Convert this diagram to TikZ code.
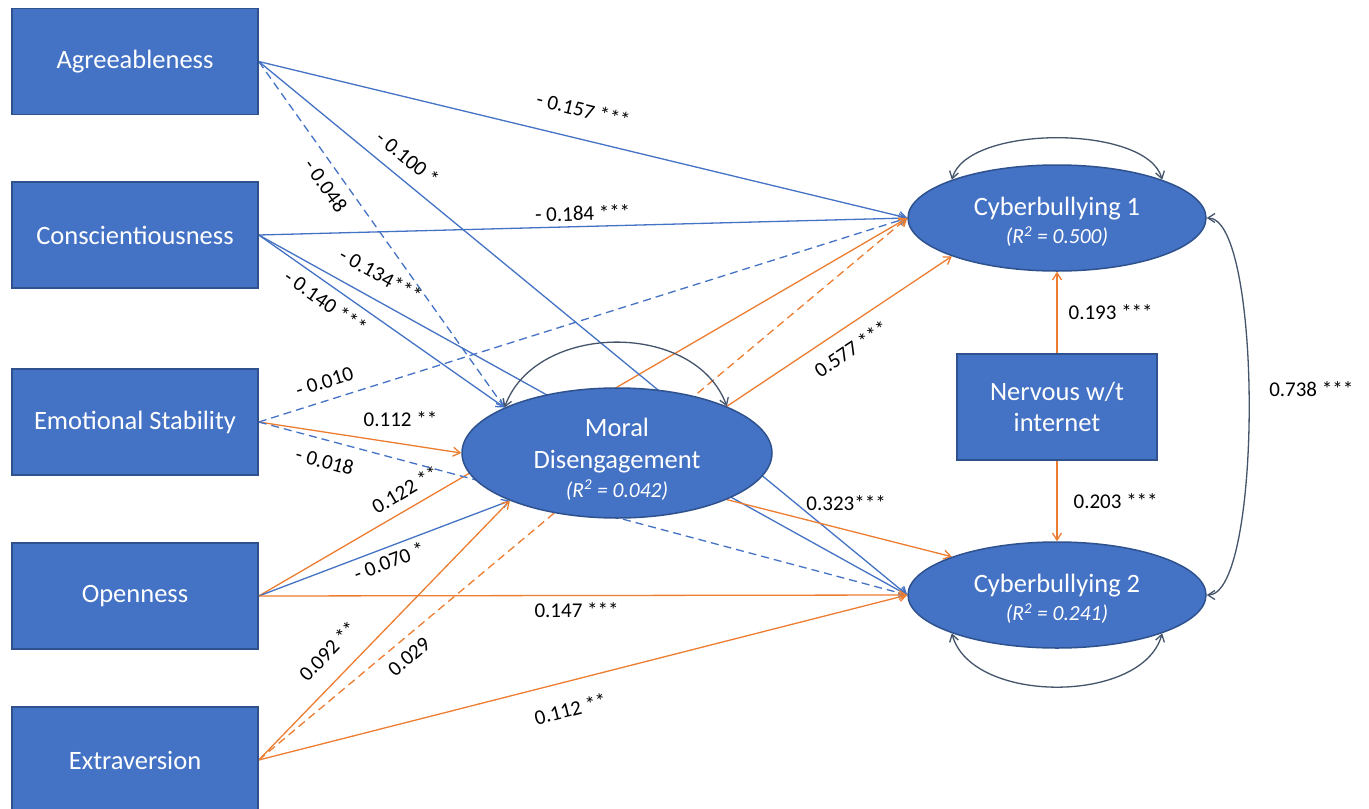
\documentclass[tikz,border=0pt]{standalone}
\usepackage{fontspec}
\setmainfont{Carlito}
\usetikzlibrary{arrows.meta, shapes.geometric, backgrounds}
\definecolor{boxblue}{RGB}{68, 114, 196}
\definecolor{boxedge}{RGB}{47, 82, 143}
\definecolor{posorange}{RGB}{237, 125, 49}
\definecolor{arcgrey}{RGB}{68, 84, 106}

\begin{document}
\begin{tikzpicture}[x=1pt, y=-1pt,
    trait/.style={rectangle, draw=boxedge, line width=1.5pt, fill=boxblue, text=white, minimum width=246pt, minimum height=106pt, inner sep=0pt, align=center, font=\fontsize{26.5}{31}\selectfont},
    latent/.style={ellipse, draw=boxedge, line width=1.5pt, fill=boxblue, inner sep=0pt},
    inlatent/.style={text=white, align=center, font=\fontsize{26.5}{32}\selectfont},
    negline/.style={draw=boxblue, line width=1.3pt, -{Straight Barb[length=7pt, width=9pt]}},
    posline/.style={draw=posorange, line width=1.3pt, -{Straight Barb[length=7pt, width=9pt]}},
    ns/.style={dash pattern=on 8pt off 5pt},
    resid/.style={draw=arcgrey, line width=1.3pt, {Straight Barb[length=7pt, width=9pt]}-{Straight Barb[length=7pt, width=9pt]}},
    coef/.style={font=\fontsize{21}{25}\selectfont, inner sep=2pt, text=black}]

    \useasboundingbox (0,0) rectangle (1369,809);

    \node[trait] (agree) at (135,61.5) {Agreeableness};
    \node[trait] (consc) at (135,235) {Conscientiousness};
    \node[trait] (es) at (135,422) {Emotional Stability};
    \node[trait] (open) at (135,596) {Openness};
    \node[trait] (extra) at (135,760) {Extraversion};
    \node[trait, minimum width=200pt] (nerv) at (1057,407) {Nervous w/t\\internet};

    \node[latent, minimum width=310pt, minimum height=130pt,
        label={[inlatent, yshift=-6pt]center:{Moral\\Disengagement\\[-3pt]{\fontsize{21.5}{26}\selectfont\itshape (R\textsuperscript{2} = 0.042)}}}] (moral) at (617,453) {};
    \node[latent, minimum width=298pt, minimum height=106pt,
        label={[inlatent, yshift=-4pt]center:{Cyberbullying 1\\[-4pt]{\fontsize{21.5}{26}\selectfont\itshape (R\textsuperscript{2} = 0.500)}}}] (cb1) at (1057,218) {};
    \node[latent, minimum width=298pt, minimum height=106pt,
        label={[inlatent, yshift=-4pt]center:{Cyberbullying 2\\[-4pt]{\fontsize{21.5}{26}\selectfont\itshape (R\textsuperscript{2} = 0.241)}}}] (cb2) at (1057,595) {};

    \begin{scope}[on background layer]
        \fill[white] (0,0) rectangle (1369,809);

        \draw[negline] (agree.east) -- (cb1.west) node[coef, pos=0.49, sloped, above=19pt] {- 0.157 ***};
        \draw[negline] (consc.east) -- (cb1.west) node[coef, pos=0.5, sloped, above=3pt] {- 0.184 ***};
        \draw[negline, ns] (es.east) -- (cb1.west) node[coef, pos=0.11, sloped, above=9pt] {- 0.010};
        \draw[posline] (open.east) -- (cb1.west) node[coef, pos=0.24, sloped, above=8pt] {0.122 **};
        \draw[posline, ns] (extra.east) -- (cb1.west) node[coef, pos=0.215, sloped, below=7.5pt] {0.029};
        \draw[posline] (moral.23) -- (cb1.200) node[coef, pos=0.5, sloped, below=11pt] {0.577 ***};

        \draw[negline, ns] (agree.east) -- (moral.158) node[coef, pos=0.33, sloped, below=7.5pt] {- 0.048};
        \draw[negline] (consc.east) -- (moral.158) node[coef, pos=0.31, sloped, below=6pt] {- 0.140 ***};
        \draw[posline] (es.east) -- (moral.west) node[coef, pos=0.7, above=14.5pt] {0.112 **};
        \draw[negline] (open.east) -- (moral.204) node[coef, pos=0.5, sloped, below=3.5pt] {- 0.070 *};
        \draw[posline] (extra.east) -- (moral.204) node[coef, pos=0.35, sloped, above=16pt] {0.092 **};

        \draw[negline] (agree.east) -- (cb2.west) node[coef, pos=0.21, sloped, above=10pt] {- 0.100 *};
        \draw[negline] (consc.east) -- (cb2.west) node[coef, pos=0.17, sloped, above=14pt] {- 0.134***};
        \draw[negline, ns] (es.east) -- (cb2.west) node[coef, pos=0.11, sloped, below=11pt] {- 0.018};
        \draw[posline] (open.east) -- (cb2.west) node[coef, pos=0.49, below=4.5pt] {0.147 ***};
        \draw[posline] (extra.east) -- (cb2.west) node[coef, pos=0.47, sloped, below=17.5pt] {0.112 **};
        \draw[posline] (moral.337) -- (cb2.160) node[coef, pos=0.53, above=17pt] {0.323***};

        \draw[posline] (nerv.north) -- (cb1.south) node[coef, midway, right=9pt] {0.193 ***};
        \draw[posline] (nerv.south) -- (cb2.north) node[coef, midway, right=14pt] {0.203 ***};

        \draw[resid] (moral.158) to[out=70, in=110, looseness=1.05] (moral.23);
        \draw[resid] (cb1.160) to[out=75, in=105, looseness=0.7] (cb1.20);
        \draw[resid] (cb2.200) to[out=-75, in=-105, looseness=0.9] (cb2.340);
        \draw[resid] (cb1.east) .. controls +(56,0) and +(56,0) .. (cb2.east) node[coef, pos=0.47, right=18pt] {0.738 ***};
    \end{scope}
\end{tikzpicture}
\end{document}
